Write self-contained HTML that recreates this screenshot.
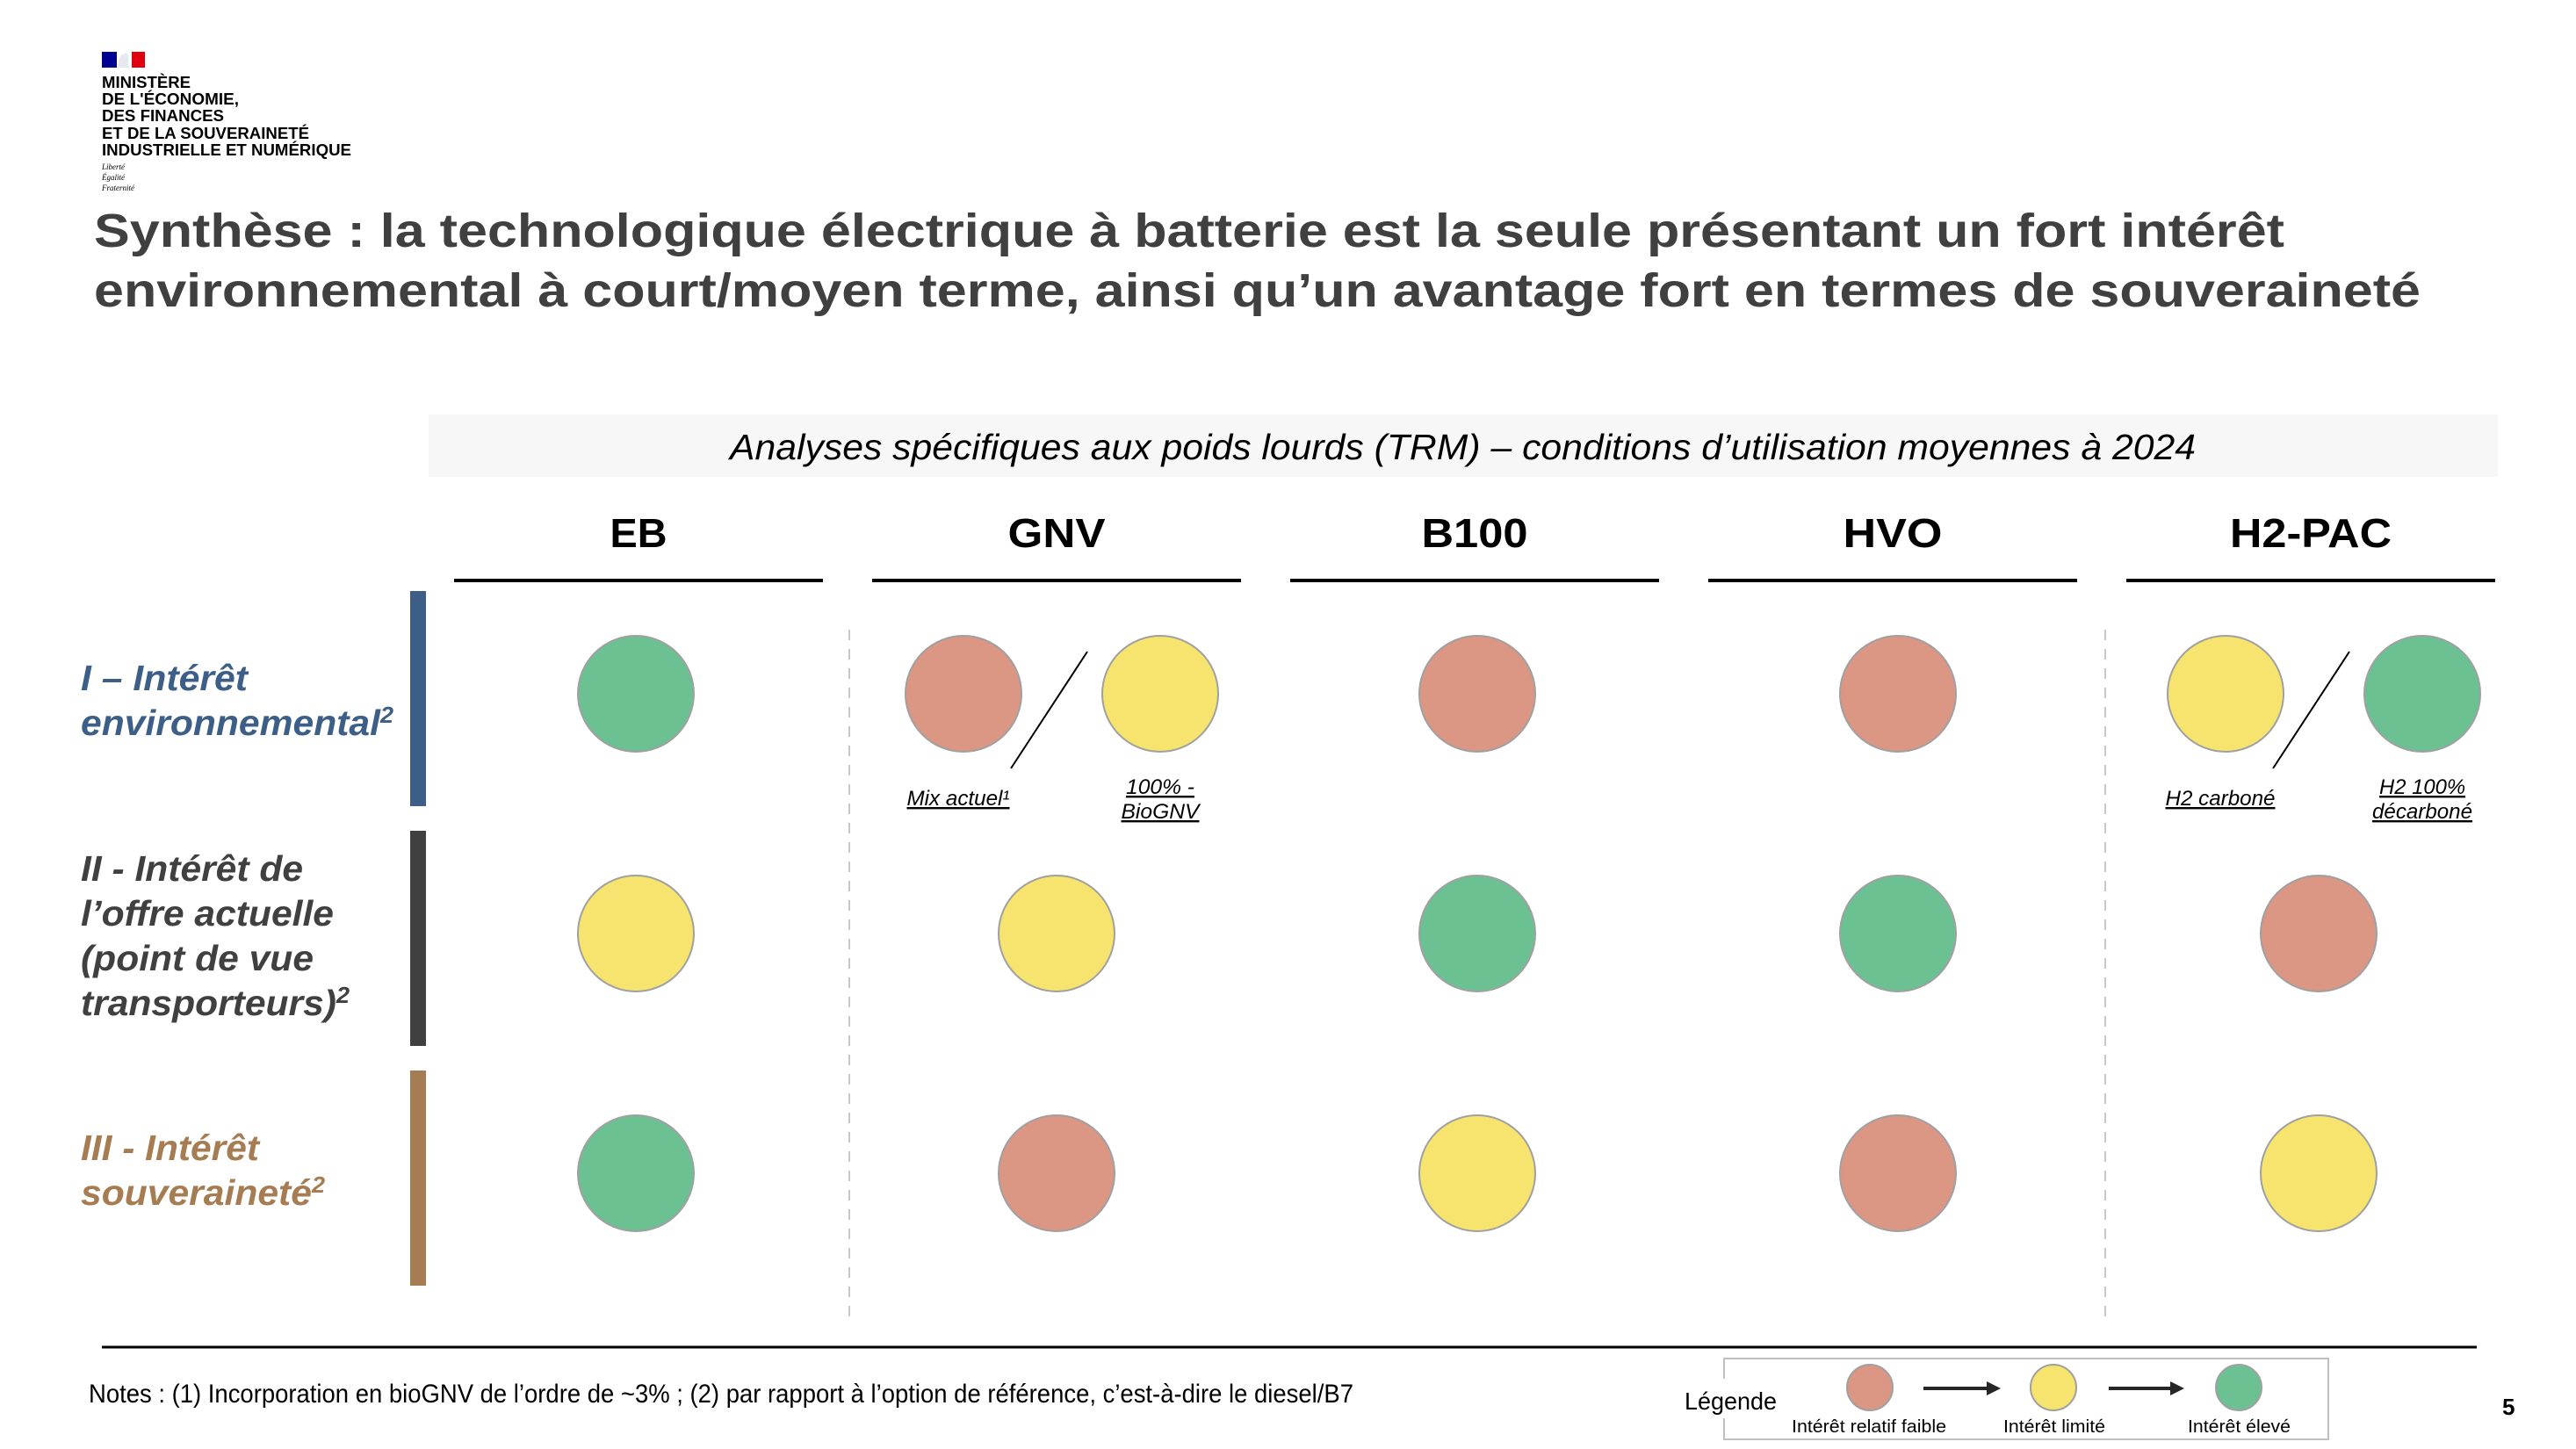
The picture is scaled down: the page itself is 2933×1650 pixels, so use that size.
<!DOCTYPE html>
<html><head><meta charset="utf-8"><style>
html,body{margin:0;padding:0;background:#fff;}
svg{display:block;font-family:"Liberation Sans",Arial,sans-serif;}
</style></head><body>
<svg id="slide" width="2933" height="1650" viewBox="0 0 2933 1650" xmlns="http://www.w3.org/2000/svg">
<g>
  <rect x="116" y="59" width="17" height="18" fill="#000091"/>
  <rect x="133" y="59" width="17" height="18" fill="#fff"/>
  <rect x="150" y="59" width="15" height="18" fill="#e1000f"/>
  <path d="M134 77 C136 70 134 66 139 62 L144 60 C146 64 147 68 146 72 L147 77 Z" fill="#e8e8f0"/>
  <g font-weight="bold" font-size="18" fill="#000">
    <text x="116" y="100" textLength="101" lengthAdjust="spacingAndGlyphs">MINISTÈRE</text>
    <text x="116" y="119" textLength="156" lengthAdjust="spacingAndGlyphs">DE L'ÉCONOMIE,</text>
    <text x="116" y="138" textLength="139" lengthAdjust="spacingAndGlyphs">DES FINANCES</text>
    <text x="116" y="158" textLength="236" lengthAdjust="spacingAndGlyphs">ET DE LA SOUVERAINETÉ</text>
    <text x="116" y="177" textLength="284" lengthAdjust="spacingAndGlyphs">INDUSTRIELLE ET NUMÉRIQUE</text>
  </g>
  <g font-family="Liberation Serif,serif" font-style="italic" font-size="9" fill="#000">
    <text x="116" y="193">Liberté</text>
    <text x="116" y="205">Égalité</text>
    <text x="116" y="217">Fraternité</text>
  </g>
</g>
<g font-weight="bold" font-size="54" fill="#404040">
  <text x="107" y="281" textLength="2494" lengthAdjust="spacingAndGlyphs">Synthèse : la technologique électrique à batterie est la seule présentant un fort intérêt</text>
  <text x="107" y="349" textLength="2649" lengthAdjust="spacingAndGlyphs">environnemental à court/moyen terme, ainsi qu’un avantage fort en termes de souveraineté</text>
</g>
<rect x="488" y="472" width="2356" height="71" fill="#f7f7f7"/>
<text x="831" y="523" font-size="41" font-style="italic" fill="#000" textLength="1669" lengthAdjust="spacingAndGlyphs">Analyses spécifiques aux poids lourds (TRM) – conditions d’utilisation moyennes à 2024</text>
<g id="grid"></g>
<line x1="116" y1="1534" x2="2820" y2="1534" stroke="#000" stroke-width="3"/>
<text x="101" y="1597" font-size="30" fill="#000" textLength="1440" lengthAdjust="spacingAndGlyphs">Notes : (1) Incorporation en bioGNV de l’ordre de ~3% ; (2) par rapport à l’option de référence, c’est-à-dire le diesel/B7</text>
<g>
  <rect x="1963" y="1547" width="688" height="92" fill="none" stroke="#c0c0c0" stroke-width="2"/>
  <rect x="1915" y="1570" width="110" height="45" fill="#fff"/>
  <text x="1918" y="1605" font-size="28" fill="#000" textLength="105" lengthAdjust="spacingAndGlyphs">Légende</text>
  <circle cx="2129" cy="1580" r="26" fill="#db9684" stroke="#a0a0a0" stroke-width="2"/>
  <circle cx="2338" cy="1580" r="26" fill="#f7e46f" stroke="#a0a0a0" stroke-width="2"/>
  <circle cx="2549" cy="1580" r="26" fill="#6cc192" stroke="#a0a0a0" stroke-width="2"/>
  <line x1="2190" y1="1581" x2="2265" y2="1581" stroke="#262626" stroke-width="4"/>
  <polygon points="2262,1573 2278,1581 2262,1589" fill="#262626"/>
  <line x1="2401" y1="1581" x2="2474" y2="1581" stroke="#262626" stroke-width="4"/>
  <polygon points="2471,1573 2487,1581 2471,1589" fill="#262626"/>
  <g font-size="20" fill="#000">
    <text x="2040" y="1631" textLength="176" lengthAdjust="spacingAndGlyphs">Intérêt relatif faible</text>
    <text x="2281" y="1631" textLength="116" lengthAdjust="spacingAndGlyphs">Intérêt limité</text>
    <text x="2491" y="1631" textLength="117" lengthAdjust="spacingAndGlyphs">Intérêt élevé</text>
  </g>
</g>
<text x="2849" y="1611" font-size="26" font-weight="bold" fill="#000">5</text>
</svg>
<script>
const columns = ["EB", "GNV", "B100", "HVO", "H2-PAC"];
const headerWidths = [65, 111, 121, 113, 184];
const rowLabels = [
  ["I – Intérêt", "environnemental"],
  ["II - Intérêt de", "l’offre actuelle", "(point de vue", "transporteurs)"],
  ["III - Intérêt", "souveraineté"]
];
const rowLabelWidths = [[190, 356], [253, 288, 265, 306], [203, 278]];
const rowColors = ["#3d5f87", "#404040", "#a67c52"];
// ratings: 0 = faible (red), 1 = limité (yellow), 2 = élevé (green); arrays = pair of scenarios
const ratingsEnv = [2, [0, 1], 0, 0, [1, 2]];
const ratingsOffre = [1, 1, 2, 2, 0];
const ratingsSouv = [2, 0, 1, 0, 1];
const pairLabels = [null, [["Mix actuel¹"], ["100% -", "BioGNV"]], null, null, [["H2 carboné"], ["H2 100%", "décarboné"]]];
const pairLabelWidths = [null, [[117], [78, 89]], null, null, [[125], [98, 114]]];

const ratingColors = ["#db9684", "#f7e46f", "#6cc192"];
const NS = "http://www.w3.org/2000/svg";
const g = document.getElementById("grid");
const xCol = i => 724 + i * 479;
const xHead = i => 727 + i * 476;
const yRow = j => 790 + j * 273;
function mk(tag, attrs, parent) {
  const e = document.createElementNS(NS, tag);
  for (const k in attrs) e.setAttribute(k, attrs[k]);
  (parent || g).appendChild(e);
  return e;
}
columns.forEach((c, i) => {
  const t = mk("text", {x: xHead(i), y: 623, "text-anchor": "middle", "font-size": 46, "font-weight": "bold", fill: "#000", textLength: headerWidths[i], lengthAdjust: "spacingAndGlyphs"});
  t.textContent = c;
  
  
  const l = mk("line", {x1: xHead(i) - 210, x2: xHead(i) + 210, y1: 661, y2: 661, stroke: "#000", "stroke-width": 4});
  
  
});
[967, 2397].forEach(x => {
  const d = mk("line", {x1: x, x2: x, y1: 717, y2: 1508, stroke: "#c8c8c8", "stroke-width": 2, "stroke-dasharray": "12 10"});
  
  
});
rowLabels.forEach((lines, j) => {
  const bar = mk("rect", {x: 467, y: yRow(j) - 117, width: 18, height: 245, fill: rowColors[j]});
  
  
  const n = lines.length;
  const top = n === 2 ? (j === 2 ? yRow(j) - 15 : yRow(j) - 4) : yRow(j) - 60;
  lines.forEach((ln, k) => {
    const t = mk("text", {x: 92, y: top + k * 51, "font-size": 41, "font-weight": "bold", "font-style": "italic", fill: rowColors[j], textLength: rowLabelWidths[j][k], lengthAdjust: "spacingAndGlyphs"});
    t.textContent = ln;
    if (k === n - 1) { const s = mk("tspan", {"font-size": 26, dy: -14}, t); s.textContent = "2"; }
    
    
  });
});
function dot(cx, cy, v) {
  const c = mk("circle", {cx: cx, cy: cy, r: 66, fill: ratingColors[v], stroke: "#a0a0a0", "stroke-width": 2});
  
  
}
[ratingsEnv, ratingsOffre, ratingsSouv].forEach((row, j) => {
  row.forEach((v, i) => {
    const x = xCol(i), y = yRow(j);
    if (Array.isArray(v)) {
      dot(x - 106, y, v[0]);
      dot(x + 118, y, v[1]);
      const sl = mk("line", {x1: x + 35, y1: y - 48, x2: x - 52, y2: y + 85, stroke: "#000", "stroke-width": 2});
      
      
      const labs = pairLabels[i], ws = pairLabelWidths[i];
      if (labs) {
        const t1 = mk("text", {x: x - 112, y: y + 127, "text-anchor": "middle", "font-size": 24, "font-style": "italic", "text-decoration": "underline", fill: "#000", textLength: ws[0][0], lengthAdjust: "spacingAndGlyphs"});
        t1.textContent = labs[0][0];
        
        
        labs[1].forEach((s, k) => {
          const t2 = mk("text", {x: x + 118, y: y + 114 + k * 28, "text-anchor": "middle", "font-size": 24, "font-style": "italic", "text-decoration": "underline", fill: "#000", textLength: ws[1][k], lengthAdjust: "spacingAndGlyphs"});
          t2.textContent = s;
          
          
        });
      }
    } else {
      dot(x, y, v);
    }
  });
});
</script>
</body></html>
